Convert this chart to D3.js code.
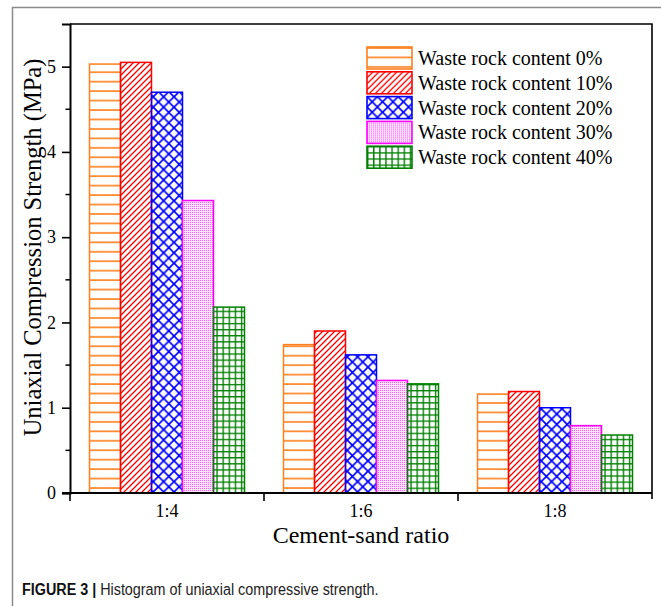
<!DOCTYPE html>
<html>
<head>
<meta charset="utf-8">
<script src="https://cdn.jsdelivr.net/npm/d3@7"></script>
<style>
  body { margin: 0; background: #fff; }
  svg { display: block; }
</style>
</head>
<body>
<div id="chart"></div>
<script>
// data
const ratios = ["1:4", "1:6", "1:8"];
const contents = ["Waste rock content 0%", "Waste rock content 10%", "Waste rock content 20%",
                  "Waste rock content 30%", "Waste rock content 40%"];
const content0 = [5.03, 1.74, 1.16];
const content10 = [5.05, 1.90, 1.19];
const content20 = [4.70, 1.62, 1.00];
const content30 = [3.43, 1.32, 0.79];
const content40 = [2.18, 1.28, 0.68];
const yTicks = [0, 1, 2, 3, 4, 5];

const series = [content0, content10, content20, content30, content40];
const colors = ["#ff7f1e", "#ff0000", "#0000ff", "#ff00ff", "#008000"];

const width = 661, height = 606;
const margin = { top: 24, right: 9, bottom: 113, left: 70 };
const innerW = width - margin.left - margin.right;
const innerH = height - margin.top - margin.bottom;
const serif = "'Liberation Serif', 'Times New Roman', serif";

const svg = d3.select("#chart").append("svg")
  .attr("width", width)
  .attr("height", height);

/* patterns */
const defs = svg.append("defs");

// horizontal lines
let p = defs.append("pattern").attr("id", "pat0").attr("patternUnits", "userSpaceOnUse")
  .attr("width", 10).attr("height", 9.45);
p.append("line").attr("x1", 0).attr("x2", 10).attr("y1", 1).attr("y2", 1)
  .attr("stroke", colors[0]).attr("stroke-width", 1.6);

// diagonal ///
p = defs.append("pattern").attr("id", "pat1").attr("patternUnits", "userSpaceOnUse")
  .attr("width", 6).attr("height", 6);
p.append("path").attr("d", "M-1,7 L7,-1 M-4,4 L4,-4 M2,10 L10,2")
  .attr("stroke", colors[1]).attr("stroke-width", 1.3);

// diamond crosshatch
p = defs.append("pattern").attr("id", "pat2").attr("patternUnits", "userSpaceOnUse")
  .attr("width", 10.4).attr("height", 10.4);
p.append("path").attr("d", "M0,0 L10.4,10.4 M10.4,0 L0,10.4")
  .attr("stroke", colors[2]).attr("stroke-width", 1.7);

// fine dots
p = defs.append("pattern").attr("id", "pat3").attr("patternUnits", "userSpaceOnUse")
  .attr("width", 2).attr("height", 2);
p.append("rect").attr("width", 2).attr("height", 2).attr("fill", "#ffe2ff");
p.append("rect").attr("width", 1).attr("height", 1).attr("fill", "#ff5cff");

// square grid
p = defs.append("pattern").attr("id", "pat4").attr("patternUnits", "userSpaceOnUse")
  .attr("width", 6.1).attr("height", 6.1);
p.append("path").attr("d", "M0,0.6 L6.1,0.6 M0.6,0 L0.6,6.1")
  .attr("stroke", colors[4]).attr("stroke-width", 1.6);

/* panel border of the figure */
svg.append("path")
  .attr("d", `M12.5,${height} L12.5,7.5 L${width},7.5`)
  .attr("fill", "none").attr("stroke", "#8a8a8a").attr("stroke-width", 1.5);

const g = svg.append("g").attr("transform", `translate(${margin.left},${margin.top})`);

/* scales */
const x0 = d3.scaleBand().domain(ratios).range([0, innerW]).paddingInner(0).paddingOuter(0);
const x1 = d3.scaleBand().domain(d3.range(contents.length)).range([19.5, x0.bandwidth() - 19.5]);
const y = d3.scaleLinear().domain([0, 5.5]).range([innerH, 0]);

/* bars */
const groups = g.selectAll(".grp").data(ratios).enter().append("g")
  .attr("class", "grp")
  .attr("transform", d => `translate(${x0(d)},0)`);

groups.selectAll("rect")
  .data((d, i) => series.map((s, k) => ({ k, v: s[i] })))
  .enter().append("rect")
  .attr("x", d => x1(d.k))
  .attr("width", x1.bandwidth())
  .attr("y", d => y(d.v))
  .attr("height", d => y(0) - y(d.v))
  .attr("fill", d => `url(#pat${d.k})`)
  .attr("stroke", d => colors[d.k])
  .attr("stroke-width", 1.5);

/* frame */
g.append("path")
  .attr("d", `M0,0 L${innerW},0 L${innerW},${innerH}`)
  .attr("fill", "none").attr("stroke", "#000").attr("stroke-width", 1.6);

/* y axis */
const yAxis = d3.axisLeft(y).tickValues(yTicks).tickSize(8).tickPadding(6).tickFormat(d3.format("d"));
const ya = g.append("g").call(yAxis);
ya.select(".domain").attr("stroke-width", 2);
ya.selectAll(".tick line").attr("stroke-width", 1.6);
ya.selectAll(".tick text").attr("font-family", serif).attr("font-size", 18).attr("fill", "#000");

// minor ticks
g.append("g").selectAll("line").data(d3.range(0.5, 5.5, 1)).enter().append("line")
  .attr("x1", -4.5).attr("x2", 0)
  .attr("y1", d => y(d)).attr("y2", d => y(d))
  .attr("stroke", "#000").attr("stroke-width", 1.5);

/* x axis */
const xa = g.append("g").attr("transform", `translate(0,${innerH})`);
xa.append("line").attr("x1", -8).attr("x2", innerW).attr("stroke", "#000").attr("stroke-width", 2);
xa.selectAll(".sep").data(ratios).enter().append("line")
  .attr("class", "sep")
  .attr("x1", d => x0(d)).attr("x2", d => x0(d))
  .attr("y1", 0).attr("y2", 8)
  .attr("stroke", "#000").attr("stroke-width", 1.6);
xa.append("line").attr("x1", innerW).attr("x2", innerW).attr("y1", 0).attr("y2", 6)
  .attr("stroke", "#000").attr("stroke-width", 1.6);
xa.selectAll(".lab").data(ratios).enter().append("text")
  .attr("x", d => x0(d) + x0.bandwidth() / 2)
  .attr("y", 24)
  .attr("text-anchor", "middle")
  .attr("font-family", serif).attr("font-size", 18)
  .text(d => d);

/* axis titles */
g.append("text")
  .attr("x", innerW / 2).attr("y", innerH + 50)
  .attr("text-anchor", "middle")
  .attr("font-family", serif).attr("font-size", 24)
  .text("Cement-sand ratio");

g.append("text")
  .attr("transform", `translate(-29,${innerH / 2 - 11}) rotate(-90)`)
  .attr("text-anchor", "middle")
  .attr("font-family", serif).attr("font-size", 24.5)
  .text("Uniaxial Compression Strength (MPa)");

/* legend */
const legend = svg.append("g").attr("transform", "translate(367,47)");
const item = legend.selectAll("g").data(contents).enter().append("g")
  .attr("transform", (d, i) => `translate(0,${i * 24.8})`);
item.append("rect")
  .attr("width", 45).attr("height", 22)
  .attr("fill", (d, i) => `url(#pat${i})`)
  .attr("stroke", (d, i) => colors[i])
  .attr("stroke-width", 1.6);
item.append("text")
  .attr("x", 51).attr("y", 18)
  .attr("font-family", serif).attr("font-size", 20)
  .text(d => d);

/* caption (condensed sans) */
const cap = svg.append("text")
  .attr("transform", "translate(22,595) scale(0.845,1)")
  .attr("font-family", "'Liberation Sans Narrow', 'Arial Narrow', 'Liberation Sans', sans-serif")
  .attr("font-size", 17).attr("fill", "#222");
cap.append("tspan").attr("font-weight", "bold").attr("fill", "#111").text("FIGURE 3 | ");
cap.append("tspan").text("Histogram of uniaxial compressive strength.");
</script>
</body>
</html>
